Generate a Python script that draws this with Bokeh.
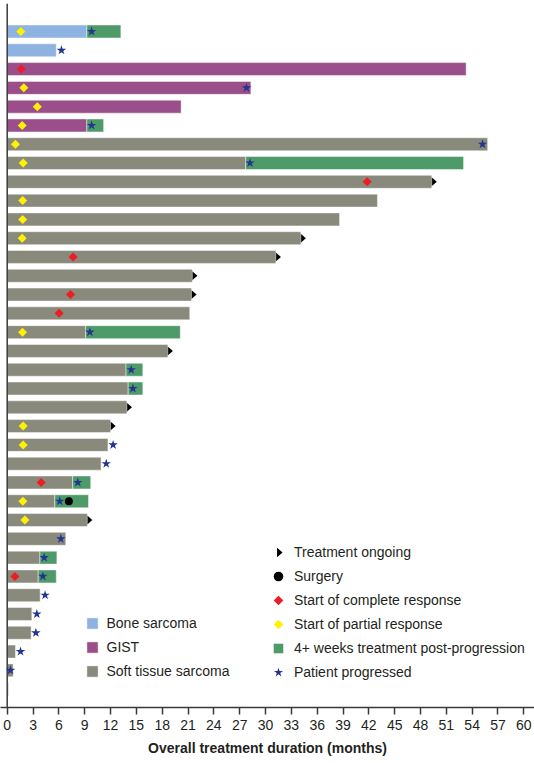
import math
from bokeh.plotting import figure
from bokeh.models import ColumnDataSource, Range1d, FixedTicker, Span, Legend, LegendItem, CustomJS
from bokeh.embed import file_html
from bokeh.resources import INLINE

N = None
T, F = True, False

# ---------------- data (one entry per patient, top to bottom) ----------------
tumor_types = ["Bone sarcoma", "GIST", "Soft tissue sarcoma"]
tumor_type = ["Bone sarcoma"] * 2 + ["GIST"] * 4 + ["Soft tissue sarcoma"] * 30

duration = [13.2, 5.7, 53.3, 28.3, 20.2, 11.2,
            55.8, 53.0, 49.3, 43.0, 38.6, 34.1,
            31.2, 21.5, 21.4, 21.2, 20.1, 18.65,
            15.75, 15.75, 13.9, 12.0, 11.7, 10.9,
            9.7, 9.44, 9.3, 6.8, 5.77, 5.7,
            3.83, 2.86, 2.78, 0.96, 0.69, 0.15]

post_progression_start = [9.25, N, N, N, N, 9.25,
                          N, 27.7, N, N, N, N,
                          N, N, N, N, 9.1, N,
                          13.8, 14.05, N, N, N, N,
                          7.6, 5.53, N, N, 3.8, 3.6,
                          N, N, N, N, N, N]

partial_response = [1.58, N, N, 1.93, 3.5, 1.74,
                    0.96, 1.86, N, 1.8, 1.8, 1.74,
                    N, N, N, N, 1.78, N,
                    N, N, N, 1.86, 1.86, N,
                    N, 1.82, 2.05, N, N, N,
                    N, N, N, N, N, N]

complete_response = [N, N, 1.63, N, N, N,
                     N, N, 41.8, N, N, N,
                     7.66, N, 7.35, 6.03, N, N,
                     N, N, N, N, N, N,
                     3.94, N, N, N, N, 0.89,
                     N, N, N, N, N, N]

progressed = [9.8, 6.3, N, 27.8, N, 9.8,
              55.2, 28.2, N, N, N, N,
              N, N, N, N, 9.6, N,
              14.4, 14.6, N, N, 12.3, 11.5,
              8.2, 6.1, N, 6.23, 4.3, 4.14,
              4.4, 3.44, 3.33, 1.55, 0.38, N]

surgery = [N, N, N, N, N, N,
           N, N, N, N, N, N,
           N, N, N, N, N, N,
           N, N, N, N, N, N,
           N, 7.16, N, N, N, N,
           N, N, N, N, N, N]

ongoing = [F, F, F, F, F, F,
           F, F, T, F, F, T,
           T, T, T, F, F, T,
           F, F, T, T, F, F,
           F, F, T, F, F, F,
           F, F, F, F, F, F]

month_ticks = list(range(0, 61, 3))

# ---------------- styling ----------------
type_colors = {"Bone sarcoma": "#8eb3e0", "GIST": "#9a4f8a", "Soft tissue sarcoma": "#898a7c"}
green = "#4e9a69"
star_color = "#223592"
red = "#ee1c25"
yellow = "#fff200"
FONT = "Liberation Sans"
TEXT = "#231f20"
AXIS = "#3a3a3a"

rows = list(range(1, len(duration) + 1))


def points(values):
    xs = [v for v in values if v is not None]
    ys = [r for r, v in zip(rows, values) if v is not None]
    return ColumnDataSource(dict(x=xs, y=ys))


p = figure(width=534, height=760,
           x_range=Range1d(-0.778, 61.24), y_range=Range1d(36.976, -0.490),
           output_backend="svg", toolbar_location=None, y_axis_location=None,
           min_border_left=0, min_border_right=0, min_border_top=3, min_border_bottom=53)
p.outline_line_color = None
p.xgrid.visible = False
p.ygrid.visible = False

# custom marker shapes (Scatter.defs): called as (args, obj, {ctx, i, r, visuals})
JS_TEMPLATE = """export default (args, obj, data) => {
  try {
    const ctx = data.ctx, i = data.i, R = data.r, visuals = data.visuals;
    ctx.beginPath();
    %s
    let done = false;
    try {
      if (visuals != null && visuals.fill != null) { visuals.fill.apply(ctx, i); done = true; }
    } catch (e) { done = false; }
    if (!done) { ctx.fill(); }
  } catch (e) {}
}"""
DIAMOND_JS = JS_TEMPLATE % "ctx.moveTo(0, -R); ctx.lineTo(R, 0); ctx.lineTo(0, R); ctx.lineTo(-R, 0); ctx.closePath();"
ARROW_JS = JS_TEMPLATE % "ctx.moveTo(-0.3*R, -R); ctx.lineTo(0.85*R, 0); ctx.lineTo(-0.3*R, R); ctx.closePath();"


def custom_scatter(src, name, js, fallback, **kw):
    try:
        return p.scatter("x", "y", source=src, marker=name, defs={name: CustomJS(code=js)}, **kw)
    except Exception:
        return p.scatter("x", "y", source=src, **fallback)


# treatment ongoing arrows (drawn first so the bars hide the part left of the bar end)
ong_src = ColumnDataSource(dict(x=[d for d, o in zip(duration, ongoing) if o],
                                y=[r for r, o in zip(rows, ongoing) if o]))
r_ong = custom_scatter(ong_src, "@arrow", ARROW_JS,
                       dict(marker="diamond", size=12, fill_color="black", line_color=None),
                       size=12, fill_color="black", line_color=None)

# bars by tumour type
bar_renderers = {}
for t in tumor_types:
    idx = [i for i in range(len(duration)) if tumor_type[i] == t]
    src = ColumnDataSource(dict(
        y=[rows[i] for i in idx],
        right=[post_progression_start[i] if post_progression_start[i] is not None else duration[i] for i in idx]))
    bar_renderers[t] = p.hbar(y="y", left=0, right="right", height=0.69, source=src,
                              fill_color=type_colors[t], line_color="white", line_alpha=0.45, line_width=1)

# post-progression treatment segments
pp_idx = [i for i in range(len(duration)) if post_progression_start[i] is not None]
pp_src = ColumnDataSource(dict(y=[rows[i] for i in pp_idx],
                               left=[post_progression_start[i] for i in pp_idx],
                               right=[duration[i] for i in pp_idx]))
p.hbar(y="y", left="left", right="right", height=0.69, source=pp_src,
       fill_color=green, line_color="white", line_alpha=0.45, line_width=1)

r_pr = custom_scatter(points(partial_response), "@diamond", DIAMOND_JS,
                      dict(marker="square", angle=math.pi / 4, size=6.5, fill_color=yellow, line_color=None),
                      size=9, fill_color=yellow, line_color=None)
r_cr = custom_scatter(points(complete_response), "@diamond", DIAMOND_JS,
                      dict(marker="square", angle=math.pi / 4, size=6.5, fill_color=red, line_color=None),
                      size=9, fill_color=red, line_color=None)
r_prog = p.scatter("x", "y", source=points(progressed), marker="star", size=10,
                   fill_color=star_color, line_color=None)
r_surg = p.scatter("x", "y", source=points(surgery), marker="circle", size=8,
                   fill_color="black", line_color=None)

# legend-only proxy for the post-progression colour
nan = float("nan")
r_pp_leg = p.scatter(x=[nan], y=[nan], marker="square", fill_color=green, line_color=None)

# y axis line
p.add_layout(Span(location=0, dimension="height", line_color=AXIS, line_width=1.5))

# x axis
ax = p.xaxis[0]
ax.ticker = FixedTicker(ticks=month_ticks)
ax.minor_tick_line_color = None
ax.major_tick_in = 0
ax.major_tick_out = 7
ax.axis_line_color = AXIS
ax.axis_line_width = 1.5
ax.major_tick_line_color = AXIS
ax.major_tick_line_width = 1.5
ax.major_label_text_font = FONT
ax.major_label_text_font_size = "14px"
ax.major_label_text_color = TEXT
ax.major_label_standoff = 5
ax.axis_label = "Overall treatment duration (months)"
ax.axis_label_text_font = FONT
ax.axis_label_text_font_size = "14px"
ax.axis_label_text_font_style = "bold"
ax.axis_label_text_color = TEXT
ax.axis_label_standoff = 7


def make_legend(items, loc, gw, gh, lh, spacing, standoff):
    lg = Legend(items=items, location=loc, orientation="vertical",
                glyph_width=gw, glyph_height=gh, label_height=lh, spacing=spacing,
                padding=0, margin=0, border_line_color=None, background_fill_alpha=0,
                label_standoff=standoff, label_text_font=FONT, label_text_font_size="14px",
                label_text_color=TEXT)
    p.add_layout(lg)
    return lg


make_legend([LegendItem(label=t, renderers=[bar_renderers[t]]) for t in tumor_types],
            (84.5, 28), 14, 14, 14, 8, 8)
make_legend([LegendItem(label="Treatment ongoing", renderers=[r_ong]),
             LegendItem(label="Surgery", renderers=[r_surg]),
             LegendItem(label="Start of complete response", renderers=[r_cr]),
             LegendItem(label="Start of partial response", renderers=[r_pr]),
             LegendItem(label="4+ weeks treatment post-progression", renderers=[r_pp_leg]),
             LegendItem(label="Patient progressed", renderers=[r_prog])],
            (266, 23.3), 24, 24, 24, 0, 4)

open("out.html", "w").write(file_html(p, INLINE))
